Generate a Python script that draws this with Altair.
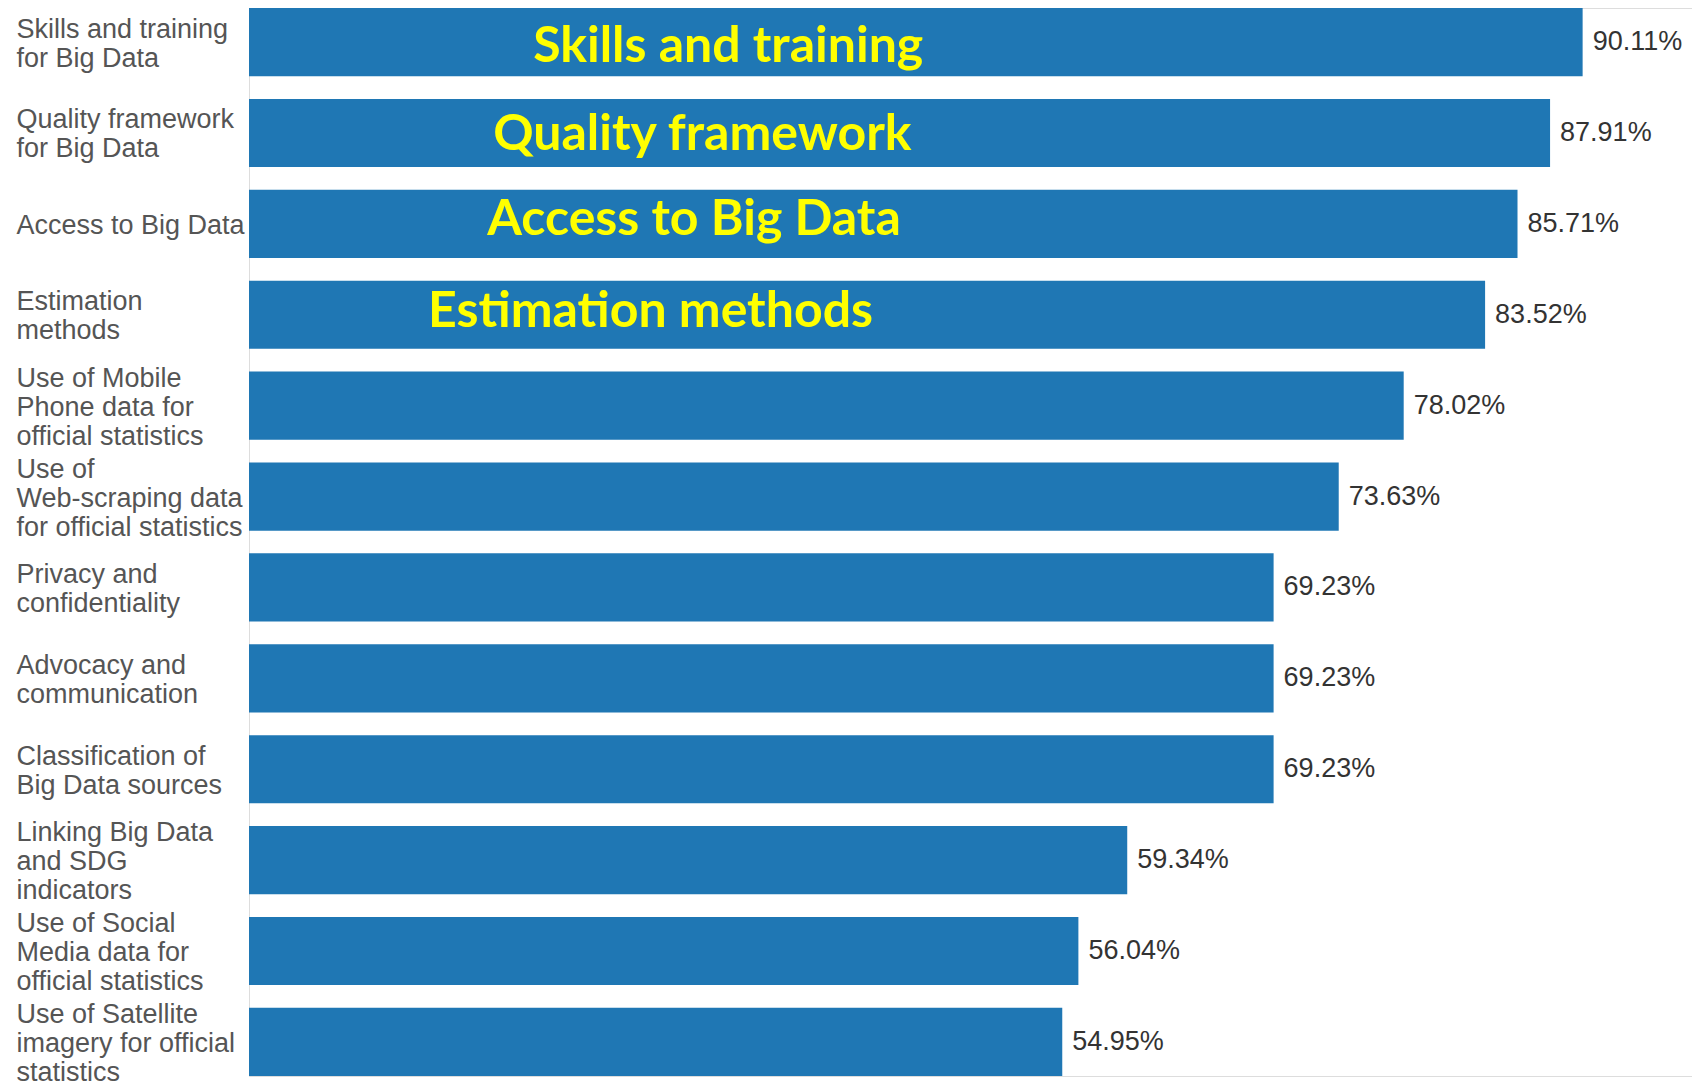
import altair as alt
import pandas as pd

categories = [
    "Skills and training\nfor Big Data",
    "Quality framework\nfor Big Data",
    "Access to Big Data",
    "Estimation\nmethods",
    "Use of Mobile\nPhone data for\nofficial statistics",
    "Use of\nWeb-scraping data\nfor official statistics",
    "Privacy and\nconfidentiality",
    "Advocacy and\ncommunication",
    "Classification of\nBig Data sources",
    "Linking Big Data\nand SDG\nindicators",
    "Use of Social\nMedia data for\nofficial statistics",
    "Use of Satellite\nimagery for official\nstatistics",
]
values = [90.11, 87.91, 85.71, 83.52, 78.02, 73.63, 69.23, 69.23, 69.23, 59.34, 56.04, 54.95]
value_labels = ["90.11%", "87.91%", "85.71%", "83.52%", "78.02%", "73.63%",
                "69.23%", "69.23%", "69.23%", "59.34%", "56.04%", "54.95%"]

ann_cats = categories[:4]
ann_texts = ["Skills and training", "Quality framework", "Access to Big Data", "Estimation methods"]
ann_x = [19.2, 16.5, 16.1, 12.1]
ann_dy = [5, 2, -4, -3]

df = pd.DataFrame({"cat": categories, "val": values, "lab": value_labels})

label_offset = {
    "condition": [
        {"test": "length(split(datum.value, '\\n')) == 3", "value": -27},
        {"test": "length(split(datum.value, '\\n')) == 2", "value": -12.5},
    ],
    "value": 2,
}

y_enc = alt.Y(
    "cat:N",
    sort=categories,
    scale=alt.Scale(paddingInner=0.25, paddingOuter=0),
    axis=alt.Axis(
        title=None,
        ticks=False,
        tickSize=0,
        labelExpr="split(datum.label, '\\n')",
        labelAlign="left",
        labelBaseline="middle",
        labelOffset=label_offset,
        labelPadding=233,
        labelFontSize=27,
        labelLineHeight=29,
        labelColor="#555555",
        labelFont="Liberation Sans",
        labelLimit=400,
        domainColor="#dddddd",
        domainWidth=1,
    ),
)
x_scale = alt.Scale(domain=[0, 97.5], nice=False)

bars = alt.Chart(df).mark_bar(color="#1f77b4").encode(
    x=alt.X("val:Q", scale=x_scale, axis=None),
    y=y_enc,
)

vlabels = alt.Chart(df).mark_text(
    align="left", baseline="middle", dx=10, dy=0,
    font="Liberation Sans", fontSize=27, color="#333333",
).encode(
    x=alt.X("val:Q", scale=x_scale, axis=None),
    y=alt.Y("cat:N", sort=categories),
    text="lab:N",
)

layers = [bars, vlabels]
for c, t, xv, d in zip(ann_cats, ann_texts, ann_x, ann_dy):
    adf = pd.DataFrame({"cat": [c], "txt": [t], "x": [xv]})
    layers.append(
        alt.Chart(adf).mark_text(
            align="left", baseline="middle", dy=d,
            font="Lato", fontWeight="bold", fontSize=50, color="#ffff00",
        ).encode(
            x=alt.X("x:Q", scale=x_scale, axis=None),
            y=alt.Y("cat:N", sort=categories),
            text="txt:N",
        )
    )

chart = alt.layer(*layers).properties(
    width=1443,
    height=1068,
    padding={"left": 8, "top": 0, "right": 0, "bottom": 0},
).configure_view(stroke=None).configure(background="white")

chart.save("out.html", embed_options={"renderer": "svg", "actions": False})
